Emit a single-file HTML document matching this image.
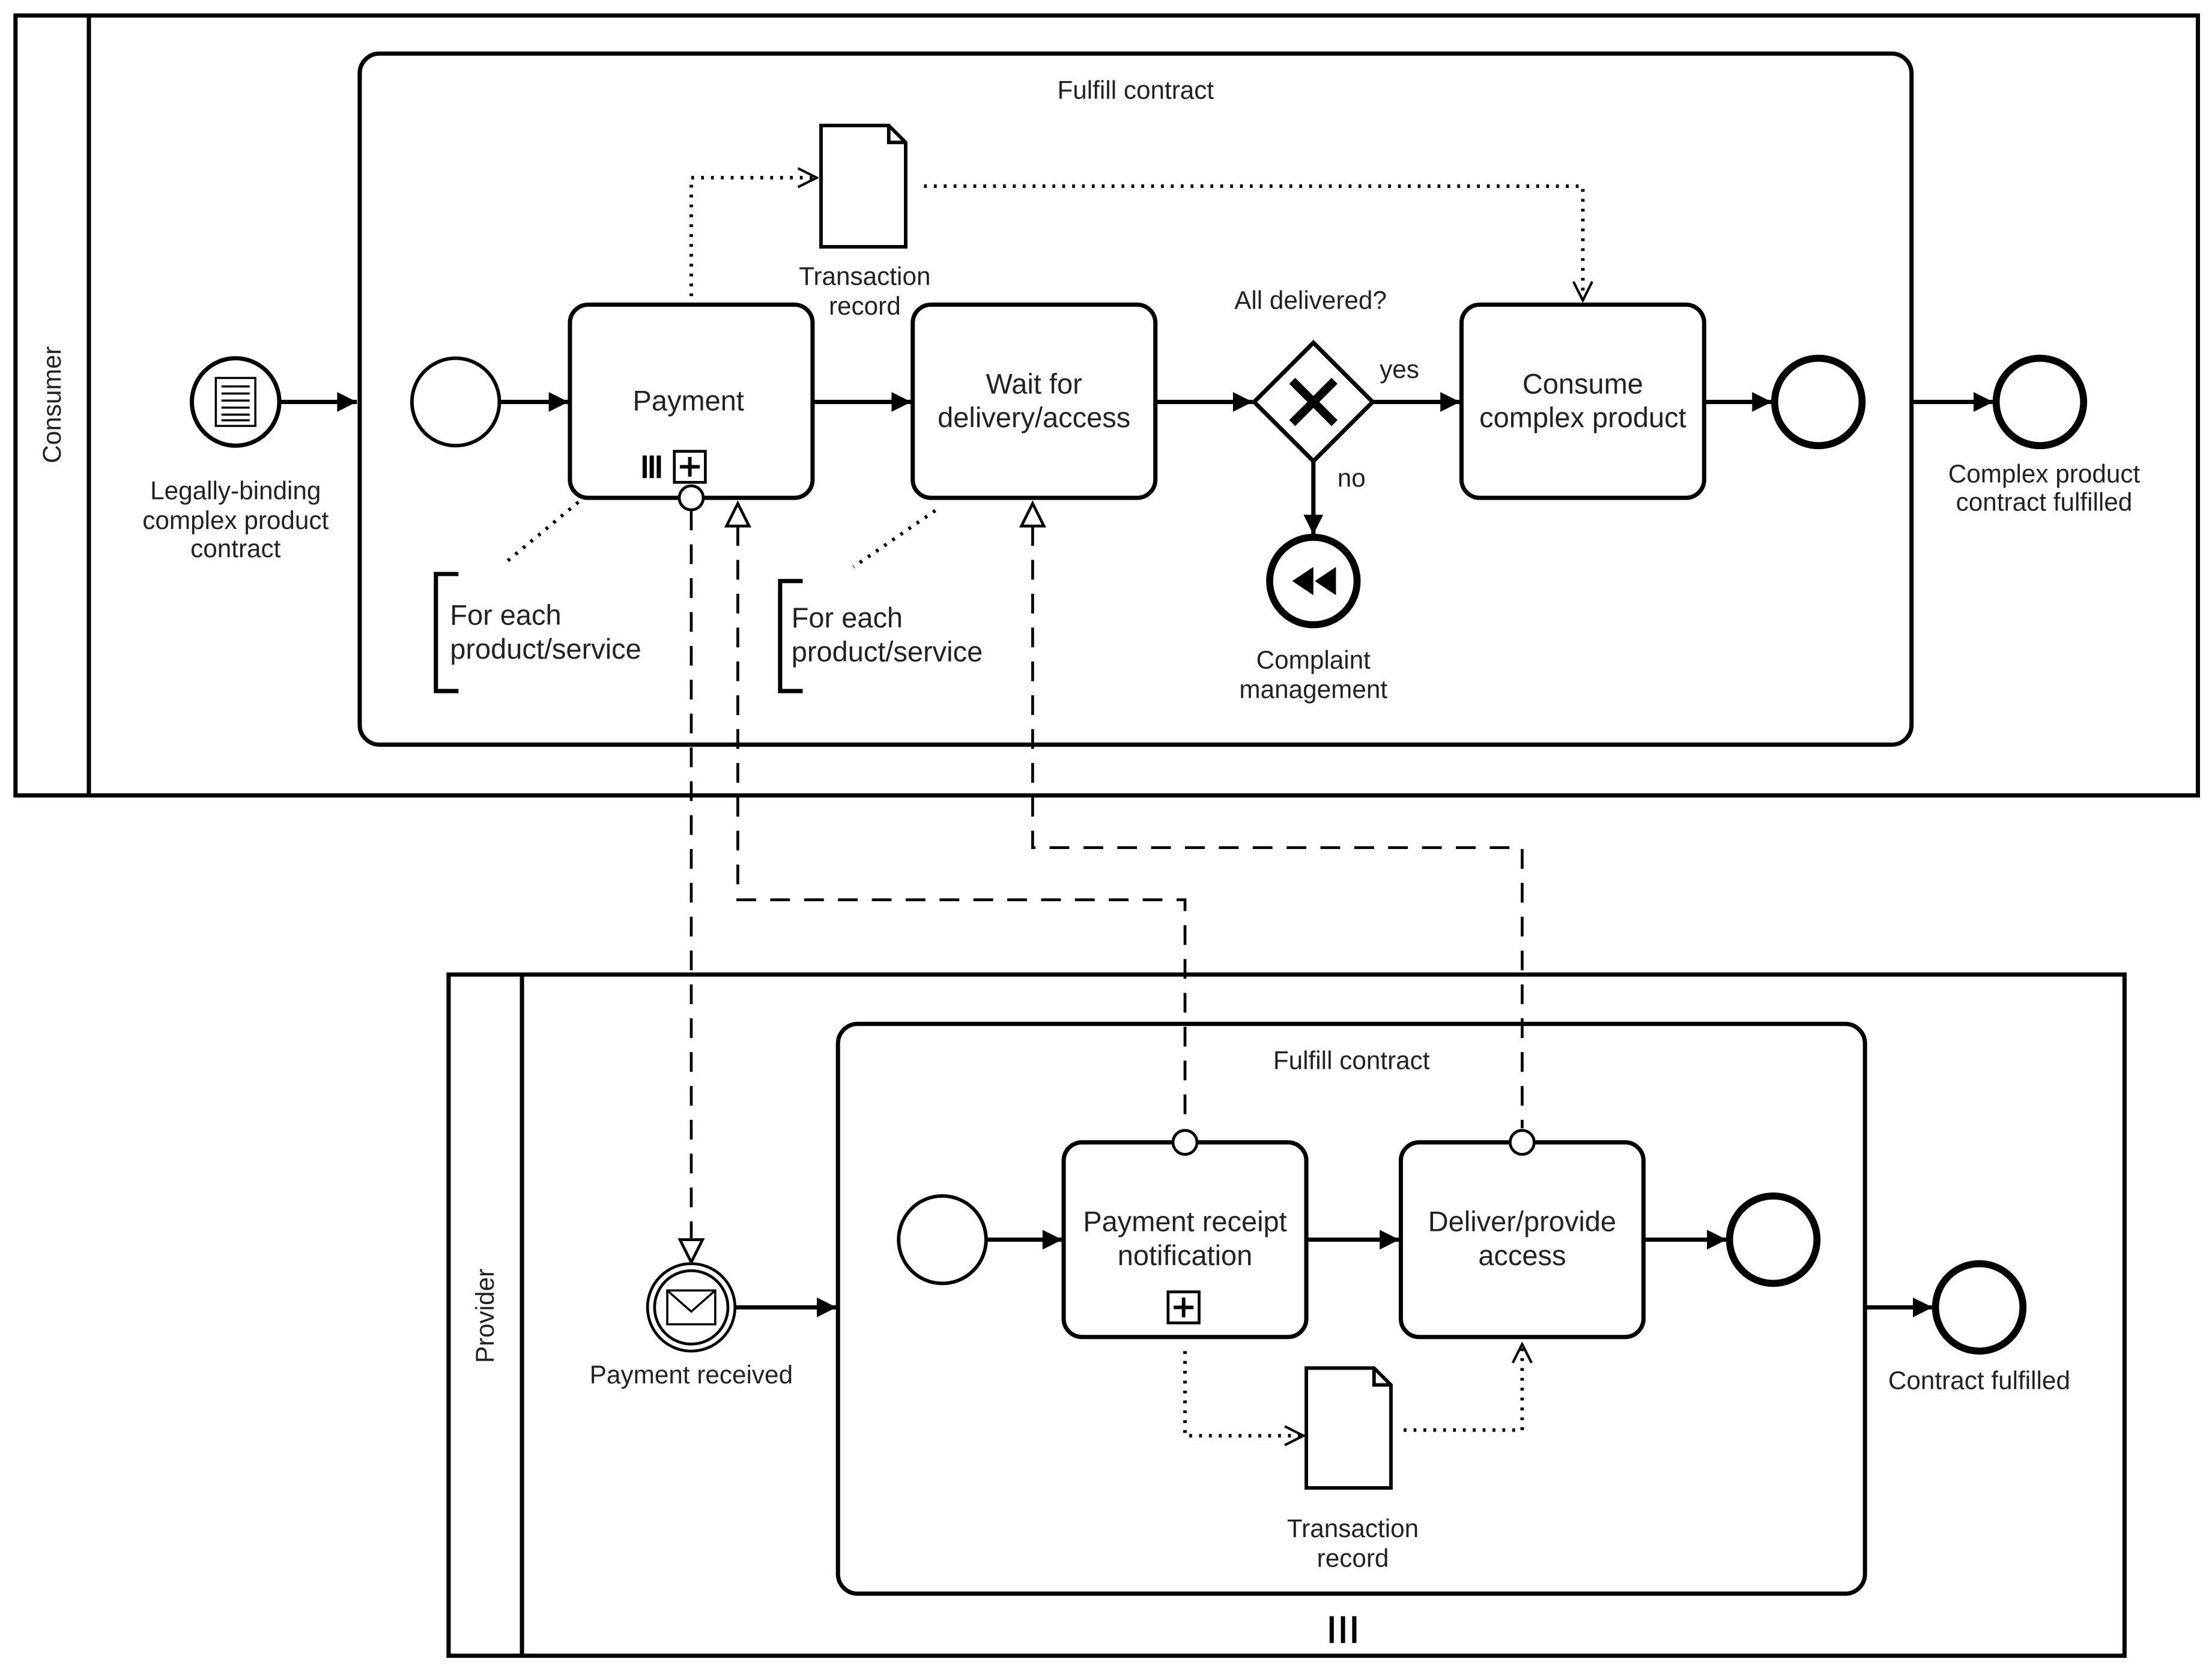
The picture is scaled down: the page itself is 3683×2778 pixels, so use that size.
<!DOCTYPE html>
<html><head><meta charset="utf-8"><style>
html,body{margin:0;padding:0;background:#fff;}
svg{display:block;}
text{font-family:"Liberation Sans",sans-serif;fill:#222;}
</style></head><body>
<svg width="3683" height="2778" viewBox="0 0 1568 1182.7" xmlns="http://www.w3.org/2000/svg">
<defs>
<marker id="a" viewBox="0 0 10 10" refX="10" refY="5" markerWidth="16" markerHeight="14" orient="auto" markerUnits="userSpaceOnUse"><path d="M0,0L10,5L0,10z" fill="#000"/></marker>
<marker id="o" viewBox="0 0 12 12" refX="11" refY="6" markerWidth="16" markerHeight="16" orient="auto" markerUnits="userSpaceOnUse"><path d="M1,1L11,6L1,11" fill="none" stroke="#000" stroke-width="1.3"/></marker>
</defs>
<rect width="1568" height="1183" fill="#fff"/>
<g fill="none" stroke="#000" stroke-width="3">
<rect x="11" y="11" width="1547" height="553"/>
<line x1="63" y1="11" x2="63" y2="564"/>
<rect x="255" y="38" width="1100" height="490" rx="14"/>
<circle cx="167" cy="285" r="31"/>
<circle cx="323" cy="285" r="31" stroke-width="2.5"/>
<rect x="404" y="216" width="172" height="137" rx="13"/>
<rect x="647" y="216" width="172" height="137" rx="13"/>
<rect x="1036" y="216" width="172" height="137" rx="13"/>
<path d="M931,243L973,285L931,327L889,285z"/>
<circle cx="1289" cy="285" r="31" stroke-width="5"/>
<circle cx="1446" cy="285" r="31" stroke-width="5"/>
<circle cx="931" cy="412" r="31" stroke-width="5"/>
<rect x="318" y="691" width="1188" height="483"/>
<line x1="370" y1="691" x2="370" y2="1174"/>
<rect x="594" y="726" width="728" height="404" rx="14"/>
<circle cx="668" cy="879" r="31" stroke-width="2.5"/>
<rect x="754" y="810" width="172" height="138" rx="13"/>
<rect x="993" y="810" width="172" height="138" rx="13"/>
<circle cx="1257" cy="879" r="31" stroke-width="5"/>
<circle cx="1403" cy="927" r="31" stroke-width="5"/>
<circle cx="490" cy="927" r="31" stroke-width="2"/>
<circle cx="490" cy="927" r="26" stroke-width="2"/>
</g>
<g stroke="#000" stroke-width="3" fill="none" marker-end="url(#a)">
<line x1="199" y1="285" x2="253" y2="285"/>
<line x1="355" y1="285" x2="403" y2="285"/>
<line x1="576" y1="285" x2="646" y2="285"/>
<line x1="819" y1="285" x2="888" y2="285"/>
<line x1="973" y1="285" x2="1035" y2="285"/>
<line x1="1208" y1="285" x2="1256" y2="285"/>
<line x1="1355" y1="285" x2="1413" y2="285"/>
<line x1="931" y1="327" x2="931" y2="379"/>
<line x1="521" y1="927" x2="593" y2="927"/>
<line x1="699" y1="879" x2="753" y2="879"/>
<line x1="926" y1="879" x2="992" y2="879"/>
<line x1="1165" y1="879" x2="1224" y2="879"/>
<line x1="1322" y1="927" x2="1370" y2="927"/>
</g>
<rect x="153" y="268" width="28" height="34" fill="#fff" stroke="#000" stroke-width="1.5"/>
<g stroke="#000" stroke-width="1.5"><line x1="157" y1="274" x2="177" y2="274"/><line x1="157" y1="279" x2="177" y2="279"/><line x1="157" y1="284" x2="177" y2="284"/><line x1="157" y1="289" x2="177" y2="289"/><line x1="157" y1="294" x2="177" y2="294"/><line x1="157" y1="298" x2="177" y2="298"/></g>
<path d="M916,270L946,300M946,270L916,300" stroke="#000" stroke-width="6"/>
<path d="M931,402L916,412L931,422zM947,402L932,412L947,422z" fill="#000"/>
<rect x="473" y="915" width="34" height="24" fill="#fff" stroke="#000" stroke-width="1.5"/>
<path d="M473,915L490,930L507,915" fill="none" stroke="#000" stroke-width="1.5"/>
<g stroke="#000" stroke-width="3"><line x1="457" y1="323" x2="457" y2="339"/><line x1="462" y1="323" x2="462" y2="339"/><line x1="467" y1="323" x2="467" y2="339"/>
<line x1="944" y1="1146" x2="944" y2="1165"/><line x1="952" y1="1146" x2="952" y2="1165"/><line x1="960" y1="1146" x2="960" y2="1165"/></g>
<rect x="478" y="320" width="22" height="22" fill="#fff" stroke="#000" stroke-width="2"/>
<path d="M489,324V338M482,331H496" stroke="#000" stroke-width="2.5"/>
<rect x="828" y="916" width="22" height="22" fill="#fff" stroke="#000" stroke-width="2"/>
<path d="M839,920V934M832,927H846" stroke="#000" stroke-width="2.5"/>
<path d="M582,89H630L642,101V175H582z M630,89V101H642" fill="#fff" stroke="#000" stroke-width="2.5"/>
<path d="M926,970H974L986,982V1055H926z M974,970V982H986" fill="#fff" stroke="#000" stroke-width="2.5"/>
<g stroke="#000" stroke-width="2.5" fill="none" stroke-dasharray="2,5">
<path d="M490,210V126H579" marker-end="url(#o)"/>
<path d="M655,132H1122V213" marker-end="url(#o)"/>
<path d="M840,958V1018H924" marker-end="url(#o)"/>
<path d="M995,1014H1079V953" marker-end="url(#o)"/>
<line x1="410" y1="356" x2="357" y2="400"/>
<line x1="663" y1="362" x2="605" y2="402"/>
</g>
<path d="M325,407H309V490H325M569,412H553V490H569" fill="none" stroke="#000" stroke-width="3"/>
<g stroke="#000" stroke-width="2" fill="none" stroke-dasharray="14,10">
<path d="M490,362V878"/>
<path d="M523,373V638H840V800"/>
<path d="M732,373V601H1079V800"/>
</g>
<g stroke="#000" stroke-width="2" fill="#fff">
<circle cx="490" cy="353" r="8.5"/>
<circle cx="840" cy="810" r="8.5"/>
<circle cx="1079" cy="810" r="8.5"/>
<path d="M523,357L531,373H515z"/>
<path d="M732,357L740,373H724z"/>
<path d="M490,895L482,879H498z"/>
</g>
<g font-size="18" text-anchor="middle">
<text x="805" y="70">Fulfill contract</text>
<text x="958" y="758">Fulfill contract</text>
<text x="167" y="354">Legally-binding</text>
<text x="167" y="375">complex product</text>
<text x="167" y="395">contract</text>
<text x="613" y="202">Transaction</text>
<text x="613" y="223">record</text>
<text x="929" y="219">All delivered?</text>
<text x="992" y="268">yes</text>
<text x="958" y="345">no</text>
<text x="931" y="474">Complaint</text>
<text x="931" y="495">management</text>
<text x="1449" y="342">Complex product</text>
<text x="1449" y="362">contract fulfilled</text>
<text x="490" y="981">Payment received</text>
<text x="1403" y="985">Contract fulfilled</text>
<text x="959" y="1090">Transaction</text>
<text x="959" y="1111">record</text>
<text transform="translate(43,287) rotate(-90)">Consumer</text>
<text transform="translate(350,933) rotate(-90)">Provider</text>
</g>
<g font-size="20" text-anchor="middle">
<text x="488" y="291">Payment</text>
<text x="733" y="279">Wait for</text>
<text x="733" y="303">delivery/access</text>
<text x="1122" y="279">Consume</text>
<text x="1122" y="303">complex product</text>
<text x="840" y="873">Payment receipt</text>
<text x="840" y="897">notification</text>
<text x="1079" y="873">Deliver/provide</text>
<text x="1079" y="897">access</text>
</g>
<g font-size="20">
<text x="319" y="443">For each</text>
<text x="319" y="467">product/service</text>
<text x="561" y="445">For each</text>
<text x="561" y="469">product/service</text>
</g>
</svg>
</body></html>
